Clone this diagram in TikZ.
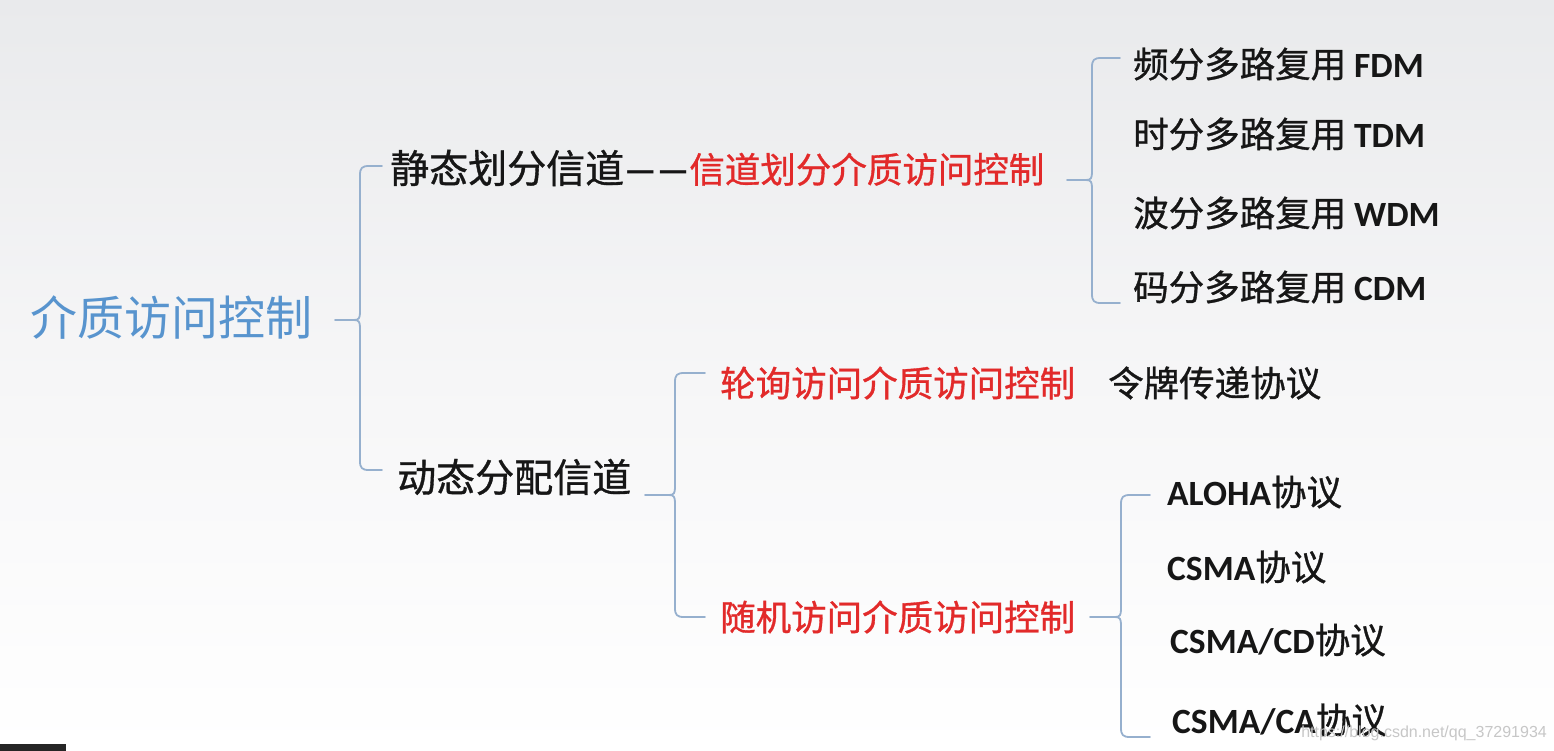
\documentclass[tikz,border=0pt]{standalone}
\usepackage{fontspec}
\usetikzlibrary{calc}
\newfontfamily\cjk{Noto Sans CJK SC}
\newfontfamily\cjkb{Noto Sans CJK SC}[FakeBold=0.9]
\newfontfamily\lat{Carlito}
\newfontfamily\wmf{Liberation Sans}
\definecolor{rootblue}{RGB}{88,148,206}
\definecolor{myred}{RGB}{226,42,42}
\definecolor{txt}{RGB}{22,22,22}
\definecolor{bracecol}{RGB}{150,176,206}
\definecolor{bgtop}{RGB}{233,234,236}
\tikzset{
  brace/.style={draw=bracecol, line width=1.8pt, line join=round, line cap=round},
  lbl/.style={anchor=west, inner sep=0pt, text=txt},
  rootst/.style={lbl, text=rootblue, font=\cjk\fontsize{47}{52}\selectfont},
  lvlone/.style={lbl, font=\cjkb\fontsize{39}{44}\selectfont},
  item/.style={lbl, font=\cjkb\fontsize{35.5}{40}\selectfont},
  reditem/.style={item, text=myred},
}
\newcommand\mybrace[4]{%
  \draw[brace] let \p1=(#1), \p2=(#2), \p3=(#3), \p4=($(#1)+(#4,0)$) in
    (\p1) -- (\x4-6pt,\y1) .. controls (\x4-1pt,\y1) and (\x4,\y1+2pt) .. (\x4,\y1+8pt)
    -- (\x4,\y2-9pt) .. controls (\x4,\y2-2pt) and (\x4+2pt,\y2) .. (\x4+9pt,\y2) -- (\p2)
    (\x4-6pt,\y1) .. controls (\x4-1pt,\y1) and (\x4,\y1-2pt) .. (\x4,\y1-8pt)
    -- (\x4,\y3+9pt) .. controls (\x4,\y3+2pt) and (\x4+2pt,\y3) .. (\x4+9pt,\y3) -- (\p3);
}
\begin{document}
\begin{tikzpicture}[x=1pt,y=-1pt]
\shade[top color=bgtop, bottom color=white, middle color={rgb,255:red,246;green,246;blue,247}] (0,0) rectangle (1554,750);
\useasboundingbox (0,0) rectangle (1554,750);
\fill[black!85] (0,744) rectangle (66,752);

% texts
\node[rootst] (root) at (30,318) {介质访问控制};
\node[lvlone] (static) at (390,168) {静态划分信道{\lat\bfseries\fontsize{36}{40}\selectfont ——}{\color{myred}\fontsize{35.5}{40}\selectfont 信道划分介质访问控制}};
\node[lvlone] (dynamic) at (397,477) {动态分配信道};
\node[reditem] (poll) at (720,383) {轮询访问介质访问控制};
\node[item] (token) at (1108,383) {令牌传递协议};
\node[reditem] (random) at (720,617) {随机访问介质访问控制};
\node[item] (fdm) at (1133,64) {频分多路复用 {\lat\bfseries FDM}};
\node[item] (tdm) at (1133,134) {时分多路复用 {\lat\bfseries TDM}};
\node[item] (wdm) at (1133,213) {波分多路复用 {\lat\bfseries WDM}};
\node[item] (cdm) at (1133,287) {码分多路复用 {\lat\bfseries CDM}};
\node[item] (aloha) at (1167,492) {{\lat\bfseries ALOHA}协议};
\node[item] (csma) at (1167,567) {{\lat\bfseries CSMA}协议};
\node[item] (csmacd) at (1170,640) {{\lat\bfseries CSMA/CD}协议};
\node[item] (csmaca) at (1172,720) {{\lat\bfseries CSMA/CA}协议};

% bracket end points
\coordinate (rootout) at (335,320);
\coordinate (statin) at (382,166);
\coordinate (dynin) at (382,470);
\coordinate (dynout) at (645,495);
\coordinate (pollin) at (705,373);
\coordinate (randin) at (705,617);
\coordinate (statout) at (1067,180);
\coordinate (fdmin) at (1120,58);
\coordinate (cdmin) at (1120,303);
\coordinate (randout) at (1090,617);
\coordinate (alohain) at (1150,495);
\coordinate (csmacain) at (1150,737);

\mybrace{rootout}{statin}{dynin}{25pt}
\mybrace{dynout}{pollin}{randin}{30pt}
\mybrace{statout}{fdmin}{cdmin}{25pt}
\mybrace{randout}{alohain}{csmacain}{31pt}

% watermark
\node[anchor=east, inner sep=0pt, text=black!22, font=\wmf\fontsize{16}{18}\selectfont] (wm) at (1547,733) {https://blog.csdn.net/qq\_37291934};
\end{tikzpicture}
\end{document}
